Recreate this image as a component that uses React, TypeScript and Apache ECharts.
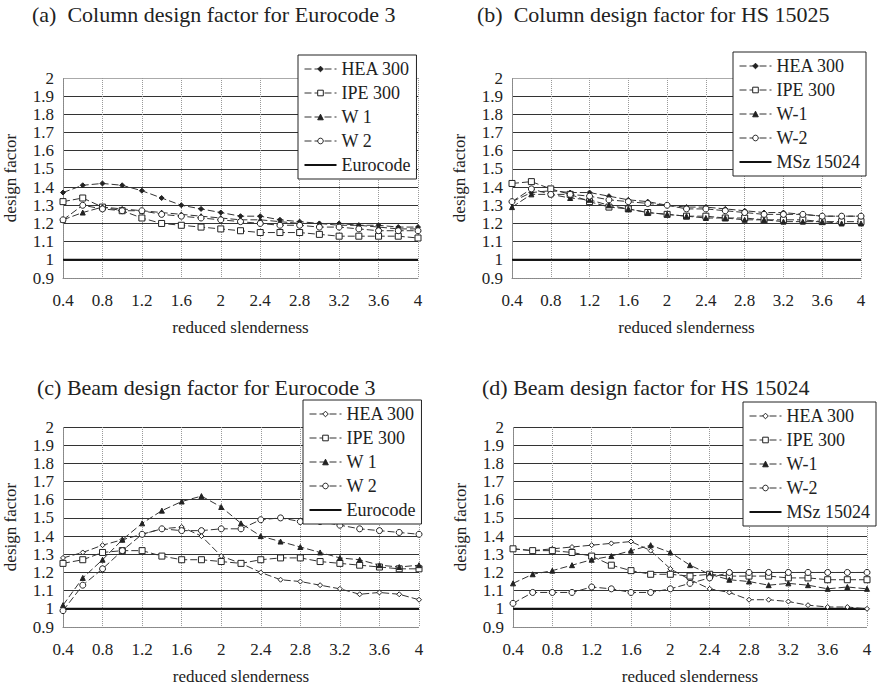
import React, { useEffect, useRef } from "react";
import * as echarts from "echarts";

// x positions (reduced slenderness)
const xs = [0.4, 0.6, 0.8, 1.0, 1.2, 1.4, 1.6, 1.8, 2.0, 2.2, 2.4, 2.6, 2.8, 3.0, 3.2, 3.4, 3.6, 3.8, 4.0];

// (a) Column design factor for Eurocode 3
const aHEA = [1.37, 1.41, 1.42, 1.41, 1.38, 1.34, 1.30, 1.28, 1.26, 1.24, 1.24, 1.22, 1.21, 1.20, 1.20, 1.19, 1.19, 1.18, 1.18];
const aIPE = [1.32, 1.34, 1.29, 1.27, 1.23, 1.20, 1.19, 1.18, 1.17, 1.16, 1.15, 1.15, 1.15, 1.14, 1.13, 1.13, 1.13, 1.13, 1.12];
const aW1 = [1.22, 1.26, 1.29, 1.28, 1.27, 1.26, 1.25, 1.24, 1.23, 1.22, 1.22, 1.21, 1.20, 1.20, 1.19, 1.19, 1.18, 1.17, 1.17];
const aW2 = [1.22, 1.30, 1.28, 1.27, 1.27, 1.25, 1.24, 1.23, 1.22, 1.21, 1.20, 1.19, 1.19, 1.18, 1.18, 1.17, 1.16, 1.16, 1.16];

// (b) Column design factor for HS 15025
const bHEA = [1.32, 1.37, 1.38, 1.37, 1.37, 1.35, 1.33, 1.32, 1.30, 1.29, 1.29, 1.28, 1.27, 1.26, 1.26, 1.25, 1.24, 1.24, 1.24];
const bIPE = [1.42, 1.43, 1.39, 1.36, 1.32, 1.29, 1.28, 1.26, 1.25, 1.24, 1.24, 1.23, 1.23, 1.22, 1.22, 1.22, 1.21, 1.21, 1.21];
const bW1 = [1.29, 1.36, 1.36, 1.34, 1.33, 1.30, 1.28, 1.26, 1.25, 1.24, 1.23, 1.23, 1.22, 1.22, 1.21, 1.21, 1.21, 1.20, 1.20];
const bW2 = [1.32, 1.39, 1.36, 1.36, 1.35, 1.33, 1.32, 1.31, 1.30, 1.28, 1.28, 1.27, 1.26, 1.25, 1.25, 1.25, 1.24, 1.24, 1.24];

// (c) Beam design factor for Eurocode 3
const cHEA = [1.28, 1.31, 1.35, 1.38, 1.41, 1.44, 1.45, 1.40, 1.29, 1.25, 1.20, 1.16, 1.15, 1.13, 1.11, 1.08, 1.09, 1.08, 1.05];
const cIPE = [1.25, 1.27, 1.31, 1.32, 1.32, 1.29, 1.27, 1.27, 1.26, 1.25, 1.27, 1.28, 1.28, 1.26, 1.25, 1.24, 1.23, 1.22, 1.22];
const cW1 = [1.02, 1.17, 1.27, 1.38, 1.47, 1.54, 1.59, 1.62, 1.56, 1.47, 1.40, 1.37, 1.34, 1.31, 1.28, 1.27, 1.24, 1.23, 1.24];
const cW2 = [0.99, 1.13, 1.22, 1.32, 1.41, 1.44, 1.43, 1.43, 1.44, 1.44, 1.49, 1.50, 1.48, 1.48, 1.46, 1.44, 1.43, 1.42, 1.41];

// (d) Beam design factor for HS 15024
const dHEA = [1.33, 1.32, 1.33, 1.34, 1.35, 1.36, 1.37, 1.32, 1.22, 1.16, 1.11, 1.09, 1.05, 1.05, 1.04, 1.02, 1.01, 1.01, 1.00];
const dIPE = [1.33, 1.32, 1.32, 1.31, 1.29, 1.24, 1.21, 1.19, 1.19, 1.18, 1.19, 1.18, 1.18, 1.18, 1.17, 1.17, 1.16, 1.16, 1.16];
const dW1 = [1.14, 1.19, 1.21, 1.24, 1.27, 1.29, 1.32, 1.35, 1.31, 1.24, 1.19, 1.16, 1.15, 1.13, 1.14, 1.13, 1.11, 1.12, 1.11];
const dW2 = [1.03, 1.09, 1.09, 1.09, 1.12, 1.11, 1.09, 1.09, 1.11, 1.14, 1.17, 1.20, 1.20, 1.20, 1.20, 1.20, 1.20, 1.20, 1.20];

// reference line value
const refValue = 1.0;

const titles = [
  "(a)  Column design factor for Eurocode 3",
  "(b)  Column design factor for HS 15025",
  "(c) Beam design factor for Eurocode 3",
  "(d) Beam design factor for HS 15024",
];
const namesEC = ["HEA 300", "IPE 300", "W 1", "W 2", "Eurocode"];
const namesHS = ["HEA 300", "IPE 300", "W-1", "W-2", "MSz 15024"];

const FONT = "'Liberation Serif', 'Times New Roman', serif";
const INK = "#222";

export default function App() {
  const ref = useRef<HTMLDivElement>(null);

  useEffect(() => {
    if (!ref.current) return;
    const chart = echarts.init(ref.current, undefined, { renderer: "svg" });

    const layout = [
      { grid: { left: 63, top: 78, width: 355, height: 200 }, title: { left: 32, top: 3 }, legend: { left: 298, top: 55 }, names: namesEC, data: [aHEA, aIPE, aW1, aW2], openHEA: false, topDotted: true },
      { grid: { left: 512, top: 78, width: 349, height: 200 }, title: { left: 477, top: 3 }, legend: { left: 733, top: 52 }, names: namesHS, data: [bHEA, bIPE, bW1, bW2], openHEA: false, topDotted: true },
      { grid: { left: 63, top: 427, width: 356, height: 200 }, title: { left: 37, top: 376 }, legend: { left: 303, top: 400 }, names: namesEC, data: [cHEA, cIPE, cW1, cW2], openHEA: true, topDotted: false },
      { grid: { left: 513, top: 427, width: 354, height: 200 }, title: { left: 482, top: 376 }, legend: { left: 743, top: 402 }, names: namesHS, data: [dHEA, dIPE, dW1, dW2], openHEA: true, topDotted: false },
    ];

    const fmt = (v: number) => String(+(+v).toFixed(1));

    const grids: any[] = [];
    const xAxes: any[] = [];
    const yAxes: any[] = [];
    const titleOpts: any[] = [];
    const legends: any[] = [];
    const series: any[] = [];

    layout.forEach((p, i) => {
      grids.push({ ...p.grid, containLabel: false });
      titleOpts.push({
        text: titles[i],
        left: p.title.left,
        top: p.title.top,
        padding: 0,
        textStyle: { fontFamily: FONT, fontSize: 22, fontWeight: "normal", color: INK },
      });
      xAxes.push({
        type: "value",
        gridIndex: i,
        min: 0.4,
        max: 4,
        interval: 0.4,
        name: "reduced slenderness",
        nameLocation: "middle",
        nameGap: 41,
        nameTextStyle: { fontFamily: FONT, fontSize: 17, color: INK },
        axisLine: { show: true, lineStyle: { color: "#888", type: "dotted", width: 1 } },
        axisTick: { show: false },
        axisLabel: { fontFamily: FONT, fontSize: 17, color: INK, margin: 14, formatter: fmt, showMinLabel: true, showMaxLabel: true },
        splitLine: { show: true, lineStyle: { color: "#999", type: "dotted", width: 1 } },
      });
      const splitColors: string[] = [];
      for (let k = 0; k < 12; k++) {
        if (k === 0) splitColors.push("#999");
        else if (k === 11) splitColors.push(p.topDotted ? "#aaa" : "#333");
        else splitColors.push("#333");
      }
      yAxes.push({
        type: "value",
        gridIndex: i,
        min: 0.9,
        max: 2,
        interval: 0.1,
        name: "design factor",
        nameLocation: "middle",
        nameRotate: 90,
        nameGap: 44,
        nameTextStyle: { fontFamily: FONT, fontSize: 17, color: INK },
        axisLine: { show: true, lineStyle: { color: "#888", type: "dotted", width: 1 } },
        axisTick: { show: false },
        axisLabel: { fontFamily: FONT, fontSize: 17, color: INK, margin: 9, formatter: fmt },
        splitLine: { show: true, lineStyle: { color: splitColors, width: 1 } },
      });

      const symbols = [
        { symbol: "diamond", size: 5, fill: p.openHEA ? "#fff" : "#222" },
        { symbol: "rect", size: 6, fill: "#fff" },
        { symbol: "triangle", size: 5, fill: "#222" },
        { symbol: "circle", size: 6, fill: "#fff" },
      ];
      const legendData: any[] = [];
      p.data.forEach((vals, si) => {
        const s = symbols[si];
        series.push({
          type: "line",
          name: p.names[si],
          xAxisIndex: i,
          yAxisIndex: i,
          data: xs.map((x, k) => [x, vals[k]]),
          symbol: s.symbol,
          symbolSize: s.size,
          showSymbol: true,
          lineStyle: { color: "#333", width: 1, type: [7, 3] },
          itemStyle: { color: s.fill, borderColor: "#222", borderWidth: 1 },
          z: 3,
        });
        legendData.push({
          name: p.names[si],
          itemStyle: { color: s.fill, borderColor: "#222", borderWidth: 1 },
          lineStyle: { color: "#333", width: 1, type: [7, 3] },
        });
      });
      series.push({
        type: "line",
        name: p.names[4],
        xAxisIndex: i,
        yAxisIndex: i,
        data: xs.map((x) => [x, refValue]),
        symbol: "none",
        lineStyle: { color: "#111", width: 2, type: "solid" },
        itemStyle: { color: "#111" },
        z: 2,
      });
      legendData.push({
        name: p.names[4],
        icon: "path://M0,0 L32,0 L32,2 L0,2 Z",
        itemStyle: { color: "#111", borderWidth: 0 },
      });

      legends.push({
        orient: "vertical",
        left: p.legend.left,
        top: p.legend.top,
        padding: [5, 6, 5, 6],
        itemGap: 6,
        itemWidth: 32,
        itemHeight: 7,
        symbolKeepAspect: true,
        backgroundColor: "#fff",
        borderColor: "#222",
        borderWidth: 1,
        borderRadius: 0,
        selectedMode: false,
        data: legendData,
        textStyle: { fontFamily: FONT, fontSize: 18, color: INK, lineHeight: 18, padding: [0, 0, 0, 0] },
      });
    });

    chart.setOption({
      animation: false,
      backgroundColor: "#fff",
      title: titleOpts,
      grid: grids,
      xAxis: xAxes,
      yAxis: yAxes,
      legend: legends,
      series,
    });

    return () => chart.dispose();
  }, []);

  return (
    <div
      ref={ref}
      style={{ position: "fixed", left: 0, top: 0, width: 878, height: 692, background: "#fff" }}
    />
  );
}
